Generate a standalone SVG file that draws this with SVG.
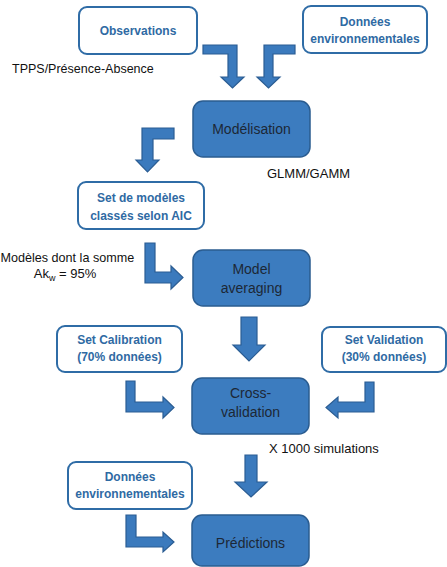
<svg xmlns="http://www.w3.org/2000/svg" width="447" height="567" viewBox="0 0 447 567">
<style>
.lb{fill:#ffffff;stroke:#2F6CA6;stroke-width:2}
.db{fill:#3C7CBF;stroke:#2A5C90;stroke-width:1.5}
.lt{font-family:"Liberation Sans",Arial,sans-serif;font-weight:bold;font-size:12px;fill:#2F6AA3;text-anchor:middle}
.dt{font-family:"Liberation Sans",Arial,sans-serif;font-size:14px;fill:#1C2836;text-anchor:middle}
.nt{font-family:"Liberation Sans",Arial,sans-serif;font-size:12.5px;fill:#111111}
.ar{fill:#3B7ABD;stroke:#2B5D93;stroke-width:1.2;stroke-linejoin:miter}
</style>
<rect width="447" height="567" fill="#ffffff"/>
<g id="connectors">
<polygon class="ar" points="203,45 237,45 237,77 244,77 232.5,88 221,77 228,77 228,54 203,54"/>
<polygon class="ar" points="295,45 264,45 264,77 257,77 268.5,88 280,77 273,77 273,54 295,54"/>
<polygon class="ar" points="174,128 142,128 142,160 136,160 147.5,172 159,160 153,160 153,139 174,139"/>
<polygon class="ar" points="145,243 155,243 155,272 171,272 171,266 183,277.5 171,289 171,283 145,283"/>
<polygon class="ar" points="241,317 257,317 257,345 265,345 249,361 233,345 241,345"/>
<polygon class="ar" points="126,381 135,381 135,402 163,402 163,397 174,407.5 163,418 163,412 126,412"/>
<polygon class="ar" points="374,382 365,382 365,402 338,402 338,397 326,407.5 338,418 338,412 374,412"/>
<polygon class="ar" points="245,455 257,455 257,482 267,482 251,497 235,482 245,482"/>
<polygon class="ar" points="126,515 136,515 136,537 163,537 163,532 174,542 163,552 163,547 126,547"/>
</g>
<g id="observations">
<rect class="lb" x="79" y="7" width="118" height="47" rx="8"/>
<text class="lt" x="138" y="35">Observations</text>
</g>
<g id="donnees-env-top">
<rect class="lb" x="303" y="6" width="124" height="47" rx="8"/>
<text class="lt" x="365" y="26">Données</text>
<text class="lt" x="365" y="43">environnementales</text>
</g>
<g id="label-tpps">
<text class="nt" x="12" y="73">TPPS/Présence-Absence</text>
</g>
<g id="modelisation">
<rect class="db" x="193" y="101" width="117" height="56" rx="10"/>
<text class="dt" x="251.5" y="134">Modélisation</text>
</g>
<g id="label-glmm">
<text class="nt" x="267" y="178" style="font-size:13px">GLMM/GAMM</text>
</g>
<g id="set-modeles">
<rect class="lb" x="78" y="182" width="126" height="47" rx="8"/>
<text class="lt" x="141" y="202">Set de modèles</text>
<text class="lt" x="141" y="220">classés selon AIC</text>
</g>
<g id="label-somme">
<text class="nt" x="0.5" y="262" style="font-size:12.6px">Modèles dont la somme</text>
<text class="nt" x="65" y="278" text-anchor="middle" style="font-size:13px">Ak<tspan dy="3" style="font-size:9px">w</tspan><tspan dy="-3"> = 95%</tspan></text>
</g>
<g id="model-averaging">
<rect class="db" x="193" y="250" width="117" height="56" rx="10"/>
<text class="dt" x="251.5" y="274">Model</text>
<text class="dt" x="251.5" y="293">averaging</text>
</g>
<g id="set-calibration">
<rect class="lb" x="57" y="326" width="125" height="46" rx="8"/>
<text class="lt" x="119.5" y="344">Set Calibration</text>
<text class="lt" x="119.5" y="361">(70% données)</text>
</g>
<g id="set-validation">
<rect class="lb" x="322" y="327" width="124" height="45" rx="8"/>
<text class="lt" x="384" y="344">Set Validation</text>
<text class="lt" x="384" y="361">(30% données)</text>
</g>
<g id="cross-validation">
<rect class="db" x="192" y="378" width="117" height="56" rx="10"/>
<text class="dt" x="250.5" y="398">Cross-</text>
<text class="dt" x="250.5" y="417">validation</text>
</g>
<g id="label-simulations">
<text class="nt" x="269" y="453" style="font-size:13px">X 1000 simulations</text>
</g>
<g id="donnees-env-bottom">
<rect class="lb" x="68" y="462" width="124" height="47" rx="8"/>
<text class="lt" x="130" y="481">Données</text>
<text class="lt" x="130" y="498">environnementales</text>
</g>
<g id="predictions">
<rect class="db" x="192" y="515" width="117" height="51" rx="10"/>
<text class="dt" x="250.5" y="548">Prédictions</text>
</g>
</svg>
